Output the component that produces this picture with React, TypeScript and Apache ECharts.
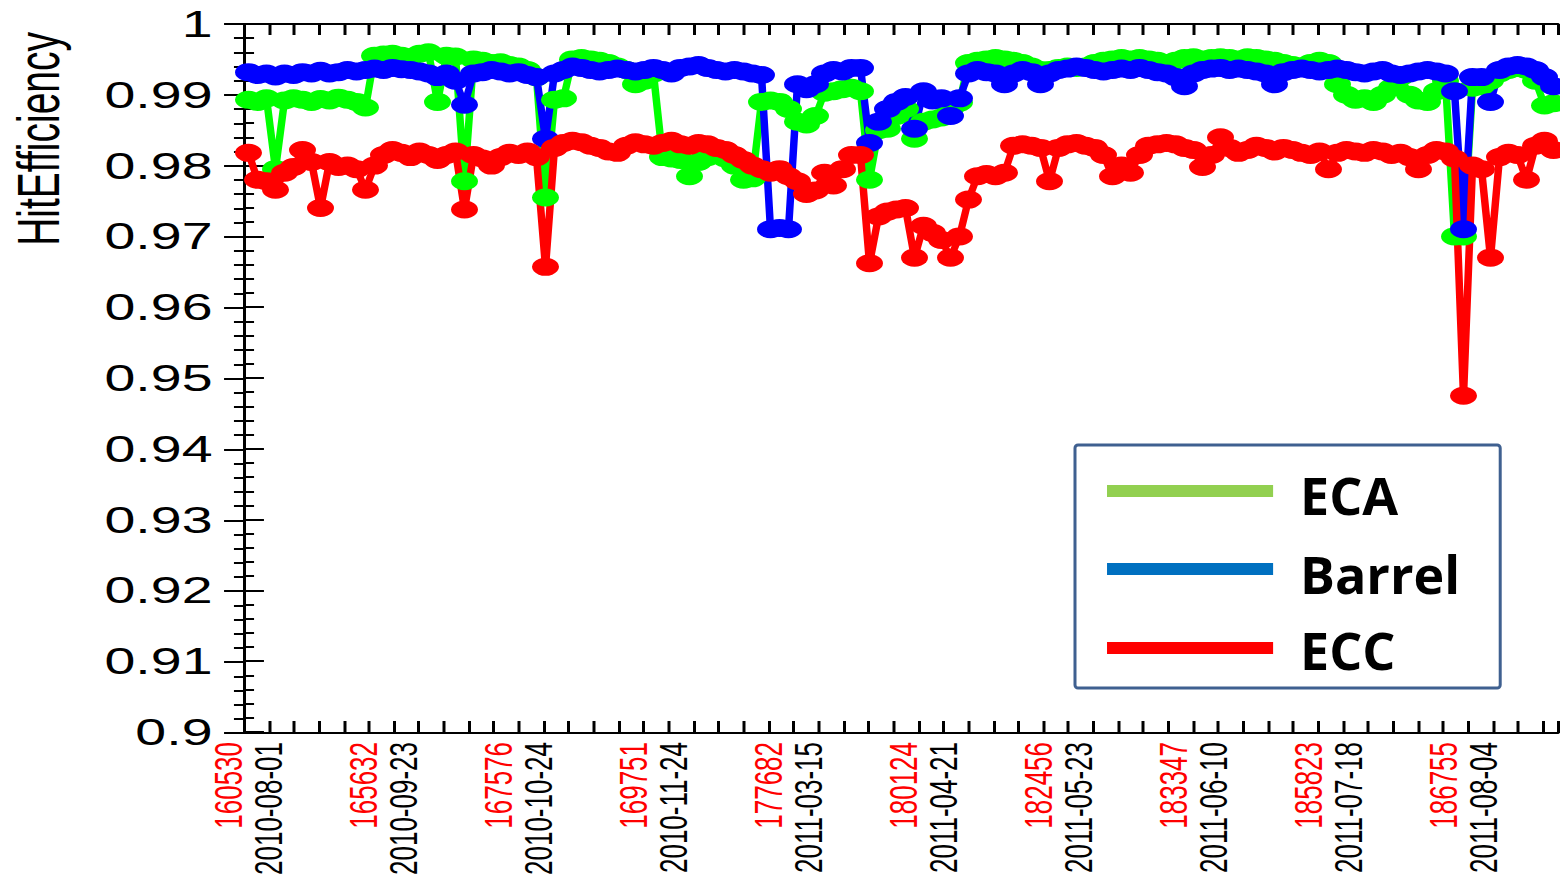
import React, { useEffect, useRef } from 'react';
import * as echarts from 'echarts';

// ---- data ----
const runLabels = ['160530', '165632', '167576', '169751', '177682', '180124', '182456', '183347', '185823', '186755'];
const dateLabels = ['2010-08-01', '2010-09-23', '2010-10-24', '2010-11-24', '2011-03-15', '2011-04-21', '2011-05-23', '2011-06-10', '2011-07-18', '2011-08-04'];
const labelEvery = 15;
const seriesNames = ['ECA', 'Barrel', 'ECC'];

const ecaValues = [
  0.9893, 0.9890, 0.9895, 0.9795, 0.9892, 0.9895, 0.9893, 0.9890, 0.9894, 0.9892,
  0.9896, 0.9893, 0.9890, 0.9882, 0.9955, 0.9957, 0.9958, 0.9955, 0.9953, 0.9958,
  0.9960, 0.9890, 0.9955, 0.9954, 0.9778, 0.9950, 0.9948, 0.9945, 0.9946, 0.9942,
  0.9940, 0.9935, 0.9925, 0.9755, 0.9893, 0.9895, 0.9950, 0.9952, 0.9950, 0.9948,
  0.9945, 0.9940, 0.9935, 0.9915, 0.9920, 0.9930, 0.9812, 0.9810, 0.9808, 0.9785,
  0.9805, 0.9812, 0.9815, 0.9810, 0.9800, 0.9780, 0.9782, 0.9890, 0.9892, 0.9890,
  0.9880, 0.9862, 0.9858, 0.9870, 0.9903, 0.9905, 0.9908, 0.9910, 0.9905, 0.9780,
  0.9850, 0.9852, 0.9870, 0.9880, 0.9838, 0.9862, 0.9865, 0.9868, 0.9880, 0.9889,
  0.9945, 0.9948, 0.9950, 0.9952, 0.9950, 0.9948, 0.9945, 0.9940, 0.9935, 0.9935,
  0.9938, 0.9940, 0.9938, 0.9940, 0.9945, 0.9948, 0.9950, 0.9952, 0.9950, 0.9952,
  0.9950, 0.9948, 0.9945, 0.9948, 0.9952, 0.9953, 0.9950, 0.9952, 0.9953, 0.9952,
  0.9950, 0.9953, 0.9952, 0.9950, 0.9948, 0.9945, 0.9942, 0.9940, 0.9945, 0.9948,
  0.9945, 0.9915, 0.9900, 0.9893, 0.9895, 0.9890, 0.9900, 0.9910, 0.9925, 0.9900,
  0.9892, 0.9890, 0.9905, 0.9920, 0.9700, 0.9700, 0.9910, 0.9912, 0.9920, 0.9930,
  0.9935, 0.9938, 0.9935, 0.9920, 0.9885, 0.9888,
];

const barrelValues = [
  0.9932, 0.9928, 0.9930, 0.9926, 0.9930, 0.9928, 0.9932, 0.9930, 0.9934, 0.9930,
  0.9932, 0.9935, 0.9933, 0.9935, 0.9937, 0.9935, 0.9938, 0.9936, 0.9935, 0.9933,
  0.9930, 0.9925, 0.9930, 0.9920, 0.9886, 0.9930, 0.9932, 0.9935, 0.9933, 0.9930,
  0.9932, 0.9928, 0.9925, 0.9838, 0.9930, 0.9935, 0.9940, 0.9938, 0.9935, 0.9933,
  0.9935, 0.9937, 0.9935, 0.9933, 0.9935, 0.9938, 0.9935, 0.9930, 0.9938, 0.9940,
  0.9942, 0.9938, 0.9935, 0.9933, 0.9935, 0.9933, 0.9930, 0.9928, 0.9710, 0.9712,
  0.9710, 0.9915, 0.9908, 0.9915, 0.9930, 0.9935, 0.9933, 0.9938, 0.9938, 0.9832,
  0.9862, 0.9880, 0.9890, 0.9897, 0.9852, 0.9905, 0.9892, 0.9895, 0.9870, 0.9895,
  0.9930, 0.9935, 0.9932, 0.9930, 0.9915, 0.9930, 0.9935, 0.9932, 0.9915, 0.9930,
  0.9935, 0.9937, 0.9940, 0.9938, 0.9935, 0.9933, 0.9935, 0.9937, 0.9935, 0.9938,
  0.9935, 0.9932, 0.9930, 0.9925, 0.9912, 0.9930, 0.9935, 0.9937, 0.9938, 0.9935,
  0.9937, 0.9935, 0.9933, 0.9930, 0.9915, 0.9932, 0.9935, 0.9937, 0.9935, 0.9933,
  0.9935, 0.9937, 0.9935, 0.9932, 0.9930, 0.9933, 0.9935, 0.9930, 0.9928, 0.9930,
  0.9933, 0.9935, 0.9933, 0.9930, 0.9905, 0.9710, 0.9925, 0.9925, 0.9890, 0.9935,
  0.9940, 0.9942, 0.9940, 0.9935, 0.9925, 0.9912,
];

const eccValues = [
  0.9818, 0.9780, 0.9778, 0.9766, 0.9790, 0.9798, 0.9822, 0.9805, 0.9740, 0.9805,
  0.9798, 0.9800, 0.9795, 0.9766, 0.9800, 0.9815, 0.9822, 0.9818, 0.9812, 0.9820,
  0.9815, 0.9808, 0.9815, 0.9820, 0.9738, 0.9815, 0.9810, 0.9800, 0.9812, 0.9818,
  0.9815, 0.9820, 0.9812, 0.9657, 0.9825, 0.9832, 0.9835, 0.9833, 0.9828, 0.9825,
  0.9820, 0.9818, 0.9828, 0.9833, 0.9830, 0.9828, 0.9832, 0.9835, 0.9830, 0.9828,
  0.9832, 0.9830, 0.9825, 0.9822, 0.9815, 0.9808, 0.9800, 0.9795, 0.9790, 0.9795,
  0.9785, 0.9778, 0.9760, 0.9765, 0.9790, 0.9772, 0.9795, 0.9815, 0.9815, 0.9662,
  0.9728, 0.9735, 0.9738, 0.9740, 0.9670, 0.9715, 0.9705, 0.9695, 0.9670, 0.9700,
  0.9752, 0.9785, 0.9788, 0.9785, 0.9790, 0.9828, 0.9830, 0.9828, 0.9825, 0.9778,
  0.9825, 0.9830, 0.9832, 0.9828, 0.9825, 0.9815, 0.9785, 0.9800, 0.9790, 0.9815,
  0.9828, 0.9830, 0.9832, 0.9830, 0.9825, 0.9822, 0.9798, 0.9815, 0.9840, 0.9825,
  0.9818, 0.9822, 0.9828, 0.9825, 0.9820, 0.9825, 0.9822, 0.9818, 0.9815, 0.9820,
  0.9795, 0.9818, 0.9822, 0.9820, 0.9818, 0.9822, 0.9820, 0.9815, 0.9818, 0.9812,
  0.9795, 0.9815, 0.9822, 0.9820, 0.9810, 0.9475, 0.9800, 0.9795, 0.9670, 0.9812,
  0.9818, 0.9815, 0.9780, 0.9828, 0.9835, 0.9822,
];

const bins = ecaValues.map((_, i) => String(i));

// ---- layout (the source plot is stretched horizontally) ----
const STRETCH = 1.5;
const W = 1560 / STRETCH;
const H = 878;
const GRID = { left: 244 / STRETCH, top: 24, width: 1314 / STRETCH, height: 709 };
const FONT = '"Liberation Sans", Arial, sans-serif';

export default function App() {
  const ref = useRef<HTMLDivElement>(null);

  useEffect(() => {
    if (!ref.current) return;
    const chart = echarts.init(ref.current, null, { renderer: 'svg' });
    const black = '#000';
    const tickAxisX = (pos: string, len: number) => ({
      type: 'value', gridIndex: 1, position: pos, min: 0, max: 52.6, interval: 1,
      axisLine: { show: true, lineStyle: { color: black, width: 2 } },
      axisTick: { show: true, inside: true, length: len, lineStyle: { color: black, width: 2 } },
      axisLabel: { show: false }, splitLine: { show: false },
    });
    const lineSeries = (name: string, data: number[], color: string) => ({
      type: 'line', name, data, xAxisIndex: 0, yAxisIndex: 0,
      symbol: 'circle', symbolSize: 18, showAllSymbol: true, clip: false,
      lineStyle: { color, width: 5 }, itemStyle: { color },
      emphasis: { disabled: true },
    });
    const legendRows = [
      { name: seriesNames[0], color: '#92D050', y: 46, ty: 50 },
      { name: seriesNames[1], color: '#0070C0', y: 124, ty: 129 },
      { name: seriesNames[2], color: '#FF0000', y: 203, ty: 205 },
    ];
    chart.setOption({
      animation: false,
      backgroundColor: '#fff',
      grid: [
        { ...GRID, containLabel: false },
        { ...GRID, containLabel: false },
      ],
      xAxis: [
        {
          type: 'category', gridIndex: 0, data: bins, boundaryGap: true, position: 'bottom',
          axisLine: { show: false }, axisTick: { show: false }, splitLine: { show: false },
          axisLabel: {
            interval: labelEvery - 1, rotate: 90, margin: 10,
            formatter: (_v: string, idx: number) => {
              const k = Math.floor(idx / labelEvery);
              if (idx % labelEvery !== 0 || k >= runLabels.length) return '';
              return `{r|${runLabels[k]}}\n{d|${dateLabels[k]}}`;
            },
            rich: {
              r: { color: '#ff0000', fontSize: 26, fontFamily: FONT, lineHeight: 27 },
              d: { color: '#000000', fontSize: 26, fontFamily: FONT, lineHeight: 27 },
            },
          },
        },
        tickAxisX('bottom', 12),
        tickAxisX('top', 11),
      ],
      yAxis: [
        {
          type: 'value', gridIndex: 0, position: 'left', min: 0.9, max: 1, interval: 0.01,
          axisLine: { show: true, lineStyle: { color: black, width: 2 } },
          axisTick: { show: true, inside: true, length: 13.3, lineStyle: { color: black, width: 2 } },
          minorTick: { show: true, splitNumber: 5, length: 6.7, lineStyle: { color: black, width: 2 } },
          axisLabel: { margin: 21, fontSize: 37, fontFamily: FONT, color: black },
          splitLine: { show: false },
        },
        {
          type: 'value', gridIndex: 1, position: 'right', min: 0.9, max: 1, interval: 0.01,
          axisLine: { show: true, lineStyle: { color: black, width: 2 } },
          axisTick: { show: true, inside: true, length: 13.3, lineStyle: { color: black, width: 2 } },
          minorTick: { show: true, splitNumber: 5, length: 6.7, lineStyle: { color: black, width: 2 } },
          axisLabel: { show: false },
          splitLine: { show: false },
        },
      ],
      series: [
        lineSeries(seriesNames[0], ecaValues, '#00ff00'),
        lineSeries(seriesNames[1], barrelValues, '#0000ff'),
        lineSeries(seriesNames[2], eccValues, '#ff0000'),
      ],
      graphic: [
        {
          type: 'text', x: 26, y: 32, rotation: Math.PI / 2,
          style: { text: 'HitEfficiency', font: `39px ${FONT}`, fill: black, align: 'right', verticalAlign: 'middle' },
        },
        {
          type: 'group', x: 1075 / STRETCH, y: 445, scaleX: 1 / STRETCH, z: 10,
          children: [
            {
              type: 'rect', shape: { x: 0, y: 0, width: 425, height: 243, r: 3 },
              style: { fill: '#fff', stroke: '#3F6090', lineWidth: 3 },
            },
            ...legendRows.map((r) => ({
              type: 'line', shape: { x1: 32, y1: r.y, x2: 198, y2: r.y },
              style: { stroke: r.color, lineWidth: 12 },
            })),
            ...legendRows.map((r) => ({
              type: 'text', x: 225, y: r.ty,
              style: { text: r.name, font: 'bold 52px "Open Sans", sans-serif', fill: black, align: 'left', verticalAlign: 'middle' },
            })),
          ],
        },
      ],
    });
    return () => chart.dispose();
  }, []);

  return (
    <div
      ref={ref}
      style={{
        position: 'absolute', left: 0, top: 0, width: W, height: H,
        transform: `scaleX(${STRETCH})`, transformOrigin: '0 0', background: '#fff',
      }}
    />
  );
}
